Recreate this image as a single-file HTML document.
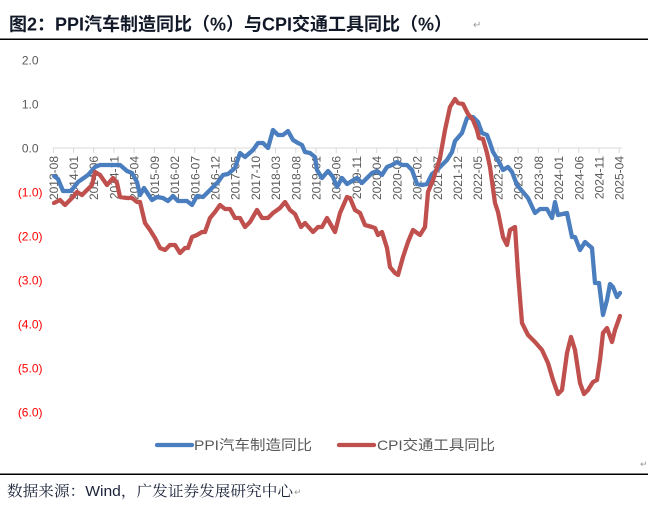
<!DOCTYPE html>
<html>
<head>
<meta charset="utf-8">
<style>
html,body{margin:0;padding:0;background:#fff;}
svg{display:block;}
</style>
</head>
<body>
<svg width="648" height="516" viewBox="0 0 648 516" xmlns="http://www.w3.org/2000/svg">
<rect x="0" y="0" width="648" height="516" fill="#fff"/>
<!-- Title -->
<text x="9" y="30.5" font-family="'Liberation Sans','Noto Sans CJK SC',sans-serif" font-size="18" font-weight="bold" fill="#111827" textLength="443" lengthAdjust="spacingAndGlyphs">图2：PPI汽车制造同比（%）与CPI交通工具同比（%）</text>
<text x="473" y="28" font-family="'Liberation Sans','DejaVu Sans',sans-serif" font-size="10" fill="#999">↵</text>
<line x1="0" y1="39.3" x2="648" y2="39.3" stroke="#000" stroke-width="1.5"/>

<!-- Y axis labels -->
<g font-family="'Liberation Sans',sans-serif" font-size="12">
<text x="38.5" y="64.3" text-anchor="end" fill="#595959">2.0</text>
<text x="38.5" y="108.3" text-anchor="end" fill="#595959">1.0</text>
<text x="38.5" y="152.3" text-anchor="end" fill="#595959">0.0</text>
<text x="42.5" y="196.3" text-anchor="end" fill="#ff0000">(1.0)</text>
<text x="42.5" y="240.3" text-anchor="end" fill="#ff0000">(2.0)</text>
<text x="42.5" y="284.3" text-anchor="end" fill="#ff0000">(3.0)</text>
<text x="42.5" y="328.3" text-anchor="end" fill="#ff0000">(4.0)</text>
<text x="42.5" y="372.3" text-anchor="end" fill="#ff0000">(5.0)</text>
<text x="42.5" y="416.3" text-anchor="end" fill="#ff0000">(6.0)</text>
</g>

<!-- X axis -->
<line x1="53" y1="148" x2="622" y2="148" stroke="#d9d9d9" stroke-width="1"/>
<g stroke="#d9d9d9" stroke-width="1">
<line x1="53.3" y1="148" x2="53.3" y2="153"/>
<line x1="73.5" y1="148" x2="73.5" y2="153"/>
<line x1="93.7" y1="148" x2="93.7" y2="153"/>
<line x1="113.9" y1="148" x2="113.9" y2="153"/>
<line x1="134.1" y1="148" x2="134.1" y2="153"/>
<line x1="154.4" y1="148" x2="154.4" y2="153"/>
<line x1="174.6" y1="148" x2="174.6" y2="153"/>
<line x1="194.8" y1="148" x2="194.8" y2="153"/>
<line x1="215.0" y1="148" x2="215.0" y2="153"/>
<line x1="235.2" y1="148" x2="235.2" y2="153"/>
<line x1="255.4" y1="148" x2="255.4" y2="153"/>
<line x1="275.6" y1="148" x2="275.6" y2="153"/>
<line x1="295.8" y1="148" x2="295.8" y2="153"/>
<line x1="316.0" y1="148" x2="316.0" y2="153"/>
<line x1="336.2" y1="148" x2="336.2" y2="153"/>
<line x1="356.5" y1="148" x2="356.5" y2="153"/>
<line x1="376.7" y1="148" x2="376.7" y2="153"/>
<line x1="396.9" y1="148" x2="396.9" y2="153"/>
<line x1="417.1" y1="148" x2="417.1" y2="153"/>
<line x1="437.3" y1="148" x2="437.3" y2="153"/>
<line x1="457.5" y1="148" x2="457.5" y2="153"/>
<line x1="477.7" y1="148" x2="477.7" y2="153"/>
<line x1="497.9" y1="148" x2="497.9" y2="153"/>
<line x1="518.1" y1="148" x2="518.1" y2="153"/>
<line x1="538.3" y1="148" x2="538.3" y2="153"/>
<line x1="558.6" y1="148" x2="558.6" y2="153"/>
<line x1="578.8" y1="148" x2="578.8" y2="153"/>
<line x1="599.0" y1="148" x2="599.0" y2="153"/>
<line x1="619.2" y1="148" x2="619.2" y2="153"/>
</g>
<g font-family="'Liberation Sans',sans-serif" font-size="12" fill="#595959" text-anchor="end">
<text transform="translate(57.8,156) rotate(-90)">2013-08</text>
<text transform="translate(78.0,156) rotate(-90)">2014-01</text>
<text transform="translate(98.2,156) rotate(-90)">2014-06</text>
<text transform="translate(118.4,156) rotate(-90)">2014-11</text>
<text transform="translate(138.6,156) rotate(-90)">2015-04</text>
<text transform="translate(158.9,156) rotate(-90)">2015-09</text>
<text transform="translate(179.1,156) rotate(-90)">2016-02</text>
<text transform="translate(199.3,156) rotate(-90)">2016-07</text>
<text transform="translate(219.5,156) rotate(-90)">2016-12</text>
<text transform="translate(239.7,156) rotate(-90)">2017-05</text>
<text transform="translate(259.9,156) rotate(-90)">2017-10</text>
<text transform="translate(280.1,156) rotate(-90)">2018-03</text>
<text transform="translate(300.3,156) rotate(-90)">2018-08</text>
<text transform="translate(320.5,156) rotate(-90)">2019-01</text>
<text transform="translate(340.7,156) rotate(-90)">2019-06</text>
<text transform="translate(361.0,156) rotate(-90)">2019-11</text>
<text transform="translate(381.2,156) rotate(-90)">2020-04</text>
<text transform="translate(401.4,156) rotate(-90)">2020-09</text>
<text transform="translate(421.6,156) rotate(-90)">2021-02</text>
<text transform="translate(441.8,156) rotate(-90)">2021-07</text>
<text transform="translate(462.0,156) rotate(-90)">2021-12</text>
<text transform="translate(482.2,156) rotate(-90)">2022-05</text>
<text transform="translate(502.4,156) rotate(-90)">2022-10</text>
<text transform="translate(522.6,156) rotate(-90)">2023-03</text>
<text transform="translate(542.8,156) rotate(-90)">2023-08</text>
<text transform="translate(563.1,156) rotate(-90)">2024-01</text>
<text transform="translate(583.3,156) rotate(-90)">2024-06</text>
<text transform="translate(603.5,156) rotate(-90)">2024-11</text>
<text transform="translate(623.7,156) rotate(-90)">2025-04</text>
</g>

<!-- PPI series (blue) -->
<polyline fill="none" stroke="#4a7ebf" stroke-width="4.3" stroke-linejoin="round" stroke-linecap="round"
points="54,176 58,179 63,191 71,191 78,182 88,175 95,167 100,165 120,165 127,171 132,173 137,182 140,195 144,188 152,200 157,197 163,198 168,201 173,196 178,201 187,201 192,205 197,196 203,197 210,190 218,182 223,175 228,174 235,168 240,153 245,157 253,150 258,143 263,143 268,148 273,130 278,135 283,135 288,131 293,140 298,143 302,145 305,152 310,153 315,157 317,170 322,178 328,171 333,177 337,187 342,178 347,184 352,181 357,178 362,183 367,178 372,173 377,171 382,175 387,167 392,165 397,162 402,165 407,165 412,170 417,184 422,185 427,184 432,174 437,170 442,165 447,160 452,152 455,141 462,133 467,118 473,117 478,122 482,133 487,135 490,143 493,152 498,160 503,170 508,167 512,172 517,185 523,192 528,198 535,213 540,209 547,209 552,218 555,202 558,215 567,213 572,237 575,237 580,250 585,242 592,248 595,283 599,283 603,315 607,300 610,284 613,287 617,297 620,293"/>

<!-- CPI series (red) -->
<polyline fill="none" stroke="#c0504d" stroke-width="4.3" stroke-linejoin="round" stroke-linecap="round"
points="54,203 60,200 65,205 72,198 77,192 82,195 87,190 92,185 95,172 100,175 107,185 113,178 117,183 120,197 127,198 132,198 137,202 140,202 145,223 150,230 155,238 160,248 165,250 170,245 175,245 180,253 185,248 188,248 192,237 197,235 202,232 205,232 210,218 215,212 220,205 225,209 230,209 235,218 240,218 245,227 250,222 257,210 262,218 268,218 273,213 280,208 285,202 290,210 295,214 301,227 305,223 313,232 318,227 322,227 327,218 335,232 340,213 347,197 350,198 355,210 360,213 365,225 372,227 375,228 378,235 382,232 387,248 390,267 395,273 398,275 403,257 408,242 413,230 420,235 425,227 428,192 433,180 440,158 445,130 450,107 455,99 458,103 463,104 468,114 473,120 477,130 479,138 483,139 487,153 490,167 495,203 498,212 503,237 507,245 510,230 515,227 518,273 522,323 528,335 535,342 542,350 548,363 553,380 558,394 562,390 567,353 571,337 575,350 580,383 584,394 588,390 593,382 597,380 600,360 603,333 607,328 612,342 615,330 620,316"/>

<!-- Legend -->
<line x1="157" y1="445" x2="192" y2="445" stroke="#4a7ebf" stroke-width="4.3" stroke-linecap="round"/>
<text x="194" y="450" font-family="'Liberation Sans','Noto Sans CJK SC',sans-serif" font-size="14" fill="#595959" textLength="118" lengthAdjust="spacingAndGlyphs">PPI汽车制造同比</text>
<line x1="339" y1="445" x2="374" y2="445" stroke="#c0504d" stroke-width="4.3" stroke-linecap="round"/>
<text x="377" y="450" font-family="'Liberation Sans','Noto Sans CJK SC',sans-serif" font-size="14" fill="#595959" textLength="118" lengthAdjust="spacingAndGlyphs">CPI交通工具同比</text>

<text x="640" y="467" font-family="'Liberation Sans','DejaVu Sans',sans-serif" font-size="9" fill="#999">↵</text>
<line x1="0" y1="474.3" x2="648" y2="474.3" stroke="#000" stroke-width="1.5"/>

<!-- Footer -->
<text x="7" y="496" font-family="'Liberation Sans','Noto Serif CJK SC',serif" font-size="15" fill="#1a2238" textLength="286" lengthAdjust="spacingAndGlyphs">数据来源：Wind，广发证券发展研究中心</text>
<text x="294" y="495" font-family="'Liberation Sans','DejaVu Sans',sans-serif" font-size="9" fill="#999">↵</text>
</svg>
</body>
</html>
